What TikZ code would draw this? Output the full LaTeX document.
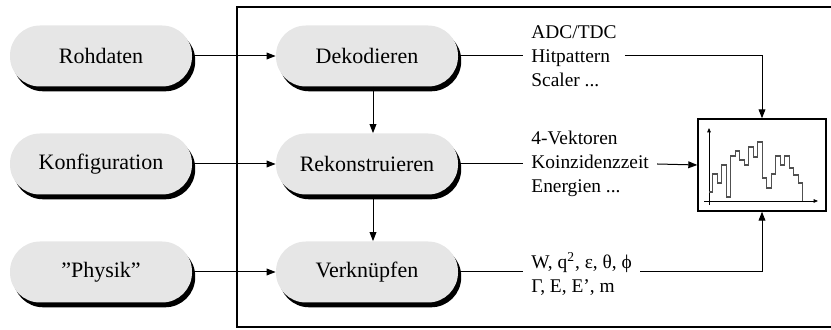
\documentclass[tikz,border=0pt]{standalone}
\usepackage{fontspec}
\setmainfont{Liberation Serif}
\usetikzlibrary{positioning,calc,shadows,arrows.meta}
\definecolor{pillFill}{HTML}{E6E6E6}
\definecolor{histLine}{HTML}{505050}

\tikzset{
  pill/.style={rectangle, rounded corners=15pt, fill=pillFill,
    minimum width=91pt, minimum height=30.5pt, inner sep=0pt,
    font=\fontsize{11}{13}\selectfont,
    drop shadow={shadow xshift=1.6pt, shadow yshift=-2.4pt, fill=black, opacity=1}},
  sidetext/.style={anchor=west, align=left, inner sep=4pt,
    font=\fontsize{9.7}{12}\selectfont},
  flow/.style={line width=0.5pt, -{Triangle[length=4.5pt,width=3.4pt]}},
  link/.style={line width=0.5pt},
  axis/.style={line width=0.4pt, -{Triangle[length=2.2pt,width=1.8pt]}},
  histline/.style={histLine, line width=0.6pt},
}

\begin{document}
\begin{tikzpicture}[x=0.5pt, y=-0.5pt]
\useasboundingbox (0,0) rectangle (831,330);

\def\colL{101}
\def\colM{367}
\def\colT{523}
\def\rowA{56}
\def\rowB{164}
\def\rowC{272}

% --- frame around the processing chain (open to the right) ---
\draw[line width=0.9pt] (840,7) -| (237,327) -- (840,327);

% --- inputs ---
\node[pill] (raw)  at (\colL,\rowA) {Rohdaten};
\node[pill] (conf) at (\colL,\rowB) {Konfiguration};
\node[pill] (phys) at (\colL,\rowC) {”Physik”};

% --- processing steps ---
\node[pill] (dek)  at (\colM,\rowA) {Dekodieren};
\node[pill] (rek)  at (\colM,\rowB) {Rekonstruieren};
\node[pill] (verk) at (\colM,\rowC) {Verknüpfen};

% --- quantities coming out of each step ---
\node[sidetext] (dekout)  at (\colT,\rowA) {ADC/TDC\\Hitpattern\\Scaler ...};
\node[sidetext] (rekout)  at (\colT,\rowB) {4-Vektoren\\Koinzidenzzeit\\Energien ...};
\node[sidetext] (verkout) at (\colT,\rowC+2) {W, q\textsuperscript{2}, ε, θ, ϕ\\Γ, E, E’, m};

% --- histogram display ---
\node[draw, line width=0.7pt, minimum width=64pt, minimum height=46pt,
      inner sep=0pt] (hist) at (762,165) {};
\draw[axis] (709,205) -- (709,128);
\draw[axis] (704,201) -- (818,201);
\draw[histline] plot[const plot] coordinates {
  (709,192) (712.7,174) (717.2,183) (721.7,165) (726.2,197) (730.7,156)
  (735.2,151) (739.7,160) (744.2,165) (748.7,147) (753.2,157) (757.7,142)
  (762.2,178) (766.7,188) (771.2,174) (775.7,156) (780.2,165) (784.7,156)
  (789.2,168) (793.7,175) (798.2,183) (802.7,201)};

% --- connections ---
\draw[flow] (raw.east)  -- (dek.west);
\draw[flow] (conf.east) -- (rek.west);
\draw[flow] (phys.east) -- (verk.west);
\draw[flow] ([xshift=3pt]dek.south) -- ([xshift=3pt]rek.north);
\draw[flow] ([xshift=3pt]rek.south) -- ([xshift=3pt]verk.north);

\draw[link] (dek.east)  -- (dekout.west);
\draw[link] (rek.east)  -- (rekout.west);
\draw[link] (verk.east) -- (verkout.west |- verk.east);

\draw[flow] (dekout.east)  -| (hist.north);
\draw[flow] (rekout.east)  -- (hist.west);
\draw[flow] (verkout.east |- verk.east) -| (hist.south);

\end{tikzpicture}
\end{document}
